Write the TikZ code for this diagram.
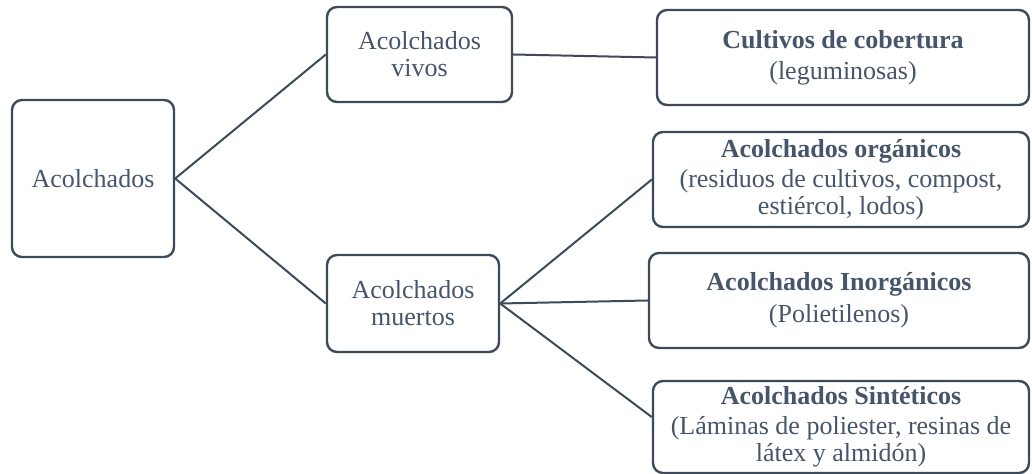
\documentclass[tikz,border=0pt]{standalone}
\usepackage{fontspec}
\setmainfont{Liberation Serif}
\usetikzlibrary{positioning}

\definecolor{slate}{HTML}{3D4A5A}
\definecolor{slatetext}{HTML}{46556A}

\begin{document}
\begin{tikzpicture}[x=0.5pt,y=-0.5pt]
		\tikzstyle{box}=[draw=slate, line width=1.2pt, rounded corners=5pt, text=slatetext, align=center, inner sep=2pt, font=\fontsize{13}{13.5}\selectfont]
		\tikzstyle{box_wide}=[box, minimum height=47.5pt]
		\tikzstyle{link}=[draw=slate, line width=1pt]

		\fill [white] (0,0) rectangle (1032,474);
		\useasboundingbox (0,0) rectangle (1032,474);

		% left side
		\node [box, minimum width=81pt, minimum height=78.5pt] (root) at (93,178.5) {Acolchados};
		\node [box, minimum width=92.5pt, minimum height=47.5pt] (live) at (419.5,54.5) {Acolchados\\vivos};
		\node [box, minimum width=86pt, minimum height=48.5pt] (dead) at (413,303.5) {Acolchados\\muertos};

		% right side
		\node [box_wide, minimum width=186pt] (cover) at (843,57.5)
			{\textbf{Cultivos de cobertura}\\[2pt](leguminosas)};
		\node [box_wide, minimum width=188pt] (organic) at (841,179.5)
			{\textbf{Acolchados orgánicos}\\[1.5pt](residuos de cultivos, compost,\\estiércol, lodos)};
		\node [box_wide, minimum width=190pt] (inorganic) at (839,300.5)
			{\textbf{Acolchados Inorgánicos}\\[2.5pt](Polietilenos)};
		\node [box, minimum width=188pt, minimum height=46pt] (synthetic) at (841,427)
			{\textbf{Acolchados Sintéticos}\\[1.5pt](Láminas de poliester, resinas de\\látex y almidón)};

		\draw [link] (root.east) -- (live.west);
		\draw [link] (root.east) -- (dead.west);
		\draw [link] (live.east) -- (cover.west);
		\draw [link] (dead.east) -- (organic.west);
		\draw [link] (dead.east) -- (inorganic.west);
		\draw [link] (dead.east) -- (synthetic.177);
	\end{tikzpicture}
\end{document}
